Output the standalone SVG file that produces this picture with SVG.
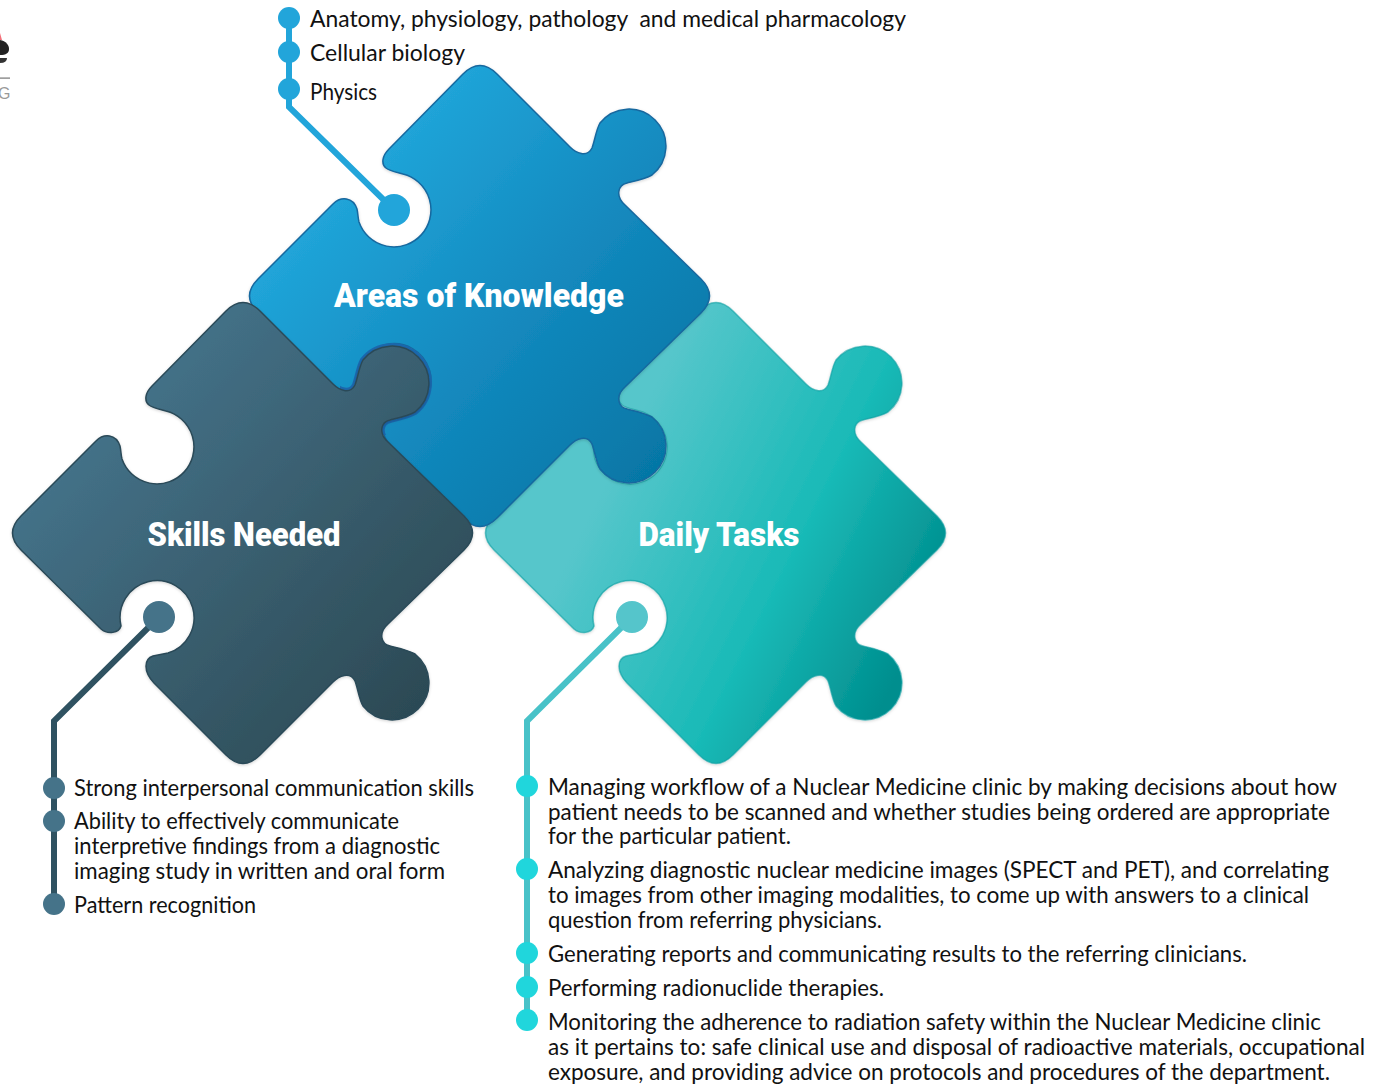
<svg xmlns="http://www.w3.org/2000/svg" width="1374" height="1086" viewBox="0 0 1374 1086">
<style>
.t{font-family:"Lato","Liberation Sans",sans-serif;font-size:22.6px;fill:#111;white-space:pre}
.h{font-family:"Roboto","Liberation Sans",sans-serif;font-weight:900;font-size:33px;fill:#fff;text-anchor:middle}
.a{fill:none;stroke:#22A5DA;stroke-width:6}
.b{fill:none;stroke:#2F5261;stroke-width:6}
.c{fill:none;stroke:#48C2C8;stroke-width:6}
.p{filter:url(#sh);stroke-width:1.5}
</style>
<defs>
<filter id="sh" x="-5%" y="-5%" width="110%" height="110%"><feDropShadow dx="0" dy="1" stdDeviation="1.5" flood-color="#000" flood-opacity="0.18"/></filter>
<linearGradient id="gb" x1="0.1" y1="0.1" x2="0.9" y2="0.85"><stop offset="0.15" stop-color="#21A6DA"/><stop offset="0.6" stop-color="#1389BE"/><stop offset="1" stop-color="#0677A6"/></linearGradient>
<linearGradient id="gs" x1="0.1" y1="0.1" x2="0.9" y2="0.85"><stop offset="0.15" stop-color="#447289"/><stop offset="0.6" stop-color="#385C6C"/><stop offset="1" stop-color="#2C4A55"/></linearGradient>
<linearGradient id="gd" x1="0.05" y1="0.25" x2="0.95" y2="0.7"><stop offset="0.25" stop-color="#56C6CB"/><stop offset="0.68" stop-color="#19BAB7"/><stop offset="1" stop-color="#008E8E"/></linearGradient>
<path id="piece" d="M463 74Q480 57 497 74L570 147C576 153 587 158 592 148C595 140 596 130 600 123A37 37 0 1 1 652 175C645 179 635 181 627 183C618 185 615 196 625 205L701 279Q718 296 701 313L625 387C615 396 618 407 627 409C635 411 645 413 652 417A37 37 0 1 1 600 469C596 462 595 452 592 444C587 434 576 439 570 445L497 518Q480 535 463 518L391 446C380 434 381 422 390 419C395 418 400 417 405 416A37 37 0 1 0 358 389C356 396 345 398 338 392L258 313Q241 296 258 279L333 204C341 196 353 197 357 209C358 214 358 218 359 222A37 37 0 1 0 403 174C396 172 390 171 386 168C381 164 382 156 389 149Z"/>
<clipPath id="knobclip"><rect x="340" y="335" width="100" height="100"/></clipPath>
</defs>
<rect width="1374" height="1086" fill="#fff"/>

<g id="logo-fragment">
<path d="M0 33L2 40H0Z" fill="#F2707A"/>
<path d="M0 40C6 41 9 45 9 49C9 53 6 55 0 55Z" fill="#222"/>
<path d="M0 58H7Q7 63 0 63Z" fill="#333"/>
<rect x="0" y="77.5" width="10" height="1.2" fill="#777"/>
<text x="-2" y="99" font-family="Liberation Sans, sans-serif" font-size="16" fill="#999">G</text>
</g>

<g id="node-daily-tasks">
<use class="p" href="#piece" transform="translate(236 237)" fill="url(#gd)" stroke="#0D9EA2" stroke-opacity="0.6"/>
<text class="h" x="719" y="546" textLength="161" lengthAdjust="spacingAndGlyphs">Daily Tasks</text>
</g>
<g id="node-areas-of-knowledge">
<use class="p" href="#piece" fill="url(#gb)" stroke="#17689F"/>
<text class="h" x="479" y="307" textLength="290" lengthAdjust="spacingAndGlyphs">Areas of Knowledge</text>
</g>
<g id="node-skills-needed">
<g clip-path="url(#knobclip)"><use href="#piece" transform="translate(-237 237)" fill="none" stroke="#1B68AE" stroke-width="6"/></g>
<use class="p" href="#piece" transform="translate(-237 237)" fill="url(#gs)" stroke="#2B4A58"/>
<text class="h" x="244" y="546" textLength="193" lengthAdjust="spacingAndGlyphs">Skills Needed</text>
</g>

<g id="connectors">
<path class="a" d="M289 18V107L394 210"/>
<path class="b" d="M159 617L54 721V904"/>
<path class="c" d="M632 617L527 721V1020"/>
</g>

<g id="bullets-knowledge" fill="#22A5DA">
<circle cx="394" cy="210" r="16"/>
<circle cx="289" cy="18" r="11"/><circle cx="289" cy="52" r="11"/><circle cx="289" cy="89" r="11"/>
<text class="t" x="310" y="27" textLength="596" lengthAdjust="spacingAndGlyphs">Anatomy, physiology, pathology  and medical pharmacology</text>
<text class="t" x="310" y="61" textLength="155" lengthAdjust="spacingAndGlyphs">Cellular biology</text>
<text class="t" x="310" y="100" textLength="67" lengthAdjust="spacingAndGlyphs">Physics</text>
</g>
<g id="bullets-skills" fill="#457389">
<circle cx="159" cy="617" r="16"/>
<circle cx="54" cy="788" r="11"/><circle cx="54" cy="821" r="11"/><circle cx="54" cy="904" r="11"/>
<text class="t" x="74" y="796" textLength="400" lengthAdjust="spacingAndGlyphs">Strong interpersonal communication skills</text>
<text class="t" x="74" y="829" textLength="325" lengthAdjust="spacingAndGlyphs">Ability to effectively communicate</text>
<text class="t" x="74" y="854" textLength="366" lengthAdjust="spacingAndGlyphs">interpretive findings from a diagnostic</text>
<text class="t" x="74" y="879" textLength="371" lengthAdjust="spacingAndGlyphs">imaging study in written and oral form</text>
<text class="t" x="74" y="913" textLength="182" lengthAdjust="spacingAndGlyphs">Pattern recognition</text>
</g>
<g id="bullets-daily" fill="#20D6DC">
<circle cx="632" cy="617" r="16" fill="#55C5CB"/>
<circle cx="527" cy="786" r="11"/><circle cx="527" cy="869" r="11"/><circle cx="527" cy="953" r="11"/><circle cx="527" cy="987" r="11"/><circle cx="527" cy="1020" r="11"/>
<text class="t" x="548" y="795" textLength="789" lengthAdjust="spacingAndGlyphs">Managing workflow of a Nuclear Medicine clinic by making decisions about how</text>
<text class="t" x="548" y="820" textLength="782" lengthAdjust="spacingAndGlyphs">patient needs to be scanned and whether studies being ordered are appropriate</text>
<text class="t" x="548" y="844" textLength="243" lengthAdjust="spacingAndGlyphs">for the particular patient.</text>
<text class="t" x="548" y="878" textLength="781" lengthAdjust="spacingAndGlyphs">Analyzing diagnostic nuclear medicine images (SPECT and PET), and correlating</text>
<text class="t" x="548" y="903" textLength="761" lengthAdjust="spacingAndGlyphs">to images from other imaging modalities, to come up with answers to a clinical</text>
<text class="t" x="548" y="928" textLength="334" lengthAdjust="spacingAndGlyphs">question from referring physicians.</text>
<text class="t" x="548" y="962" textLength="699" lengthAdjust="spacingAndGlyphs">Generating reports and communicating results to the referring clinicians.</text>
<text class="t" x="548" y="996" textLength="336" lengthAdjust="spacingAndGlyphs">Performing radionuclide therapies.</text>
<text class="t" x="548" y="1030" textLength="773" lengthAdjust="spacingAndGlyphs">Monitoring the adherence to radiation safety within the Nuclear Medicine clinic</text>
<text class="t" x="548" y="1055" textLength="817" lengthAdjust="spacingAndGlyphs">as it pertains to: safe clinical use and disposal of radioactive materials, occupational</text>
<text class="t" x="548" y="1080" textLength="782" lengthAdjust="spacingAndGlyphs">exposure, and providing advice on protocols and procedures of the department.</text>
</g>
</svg>
